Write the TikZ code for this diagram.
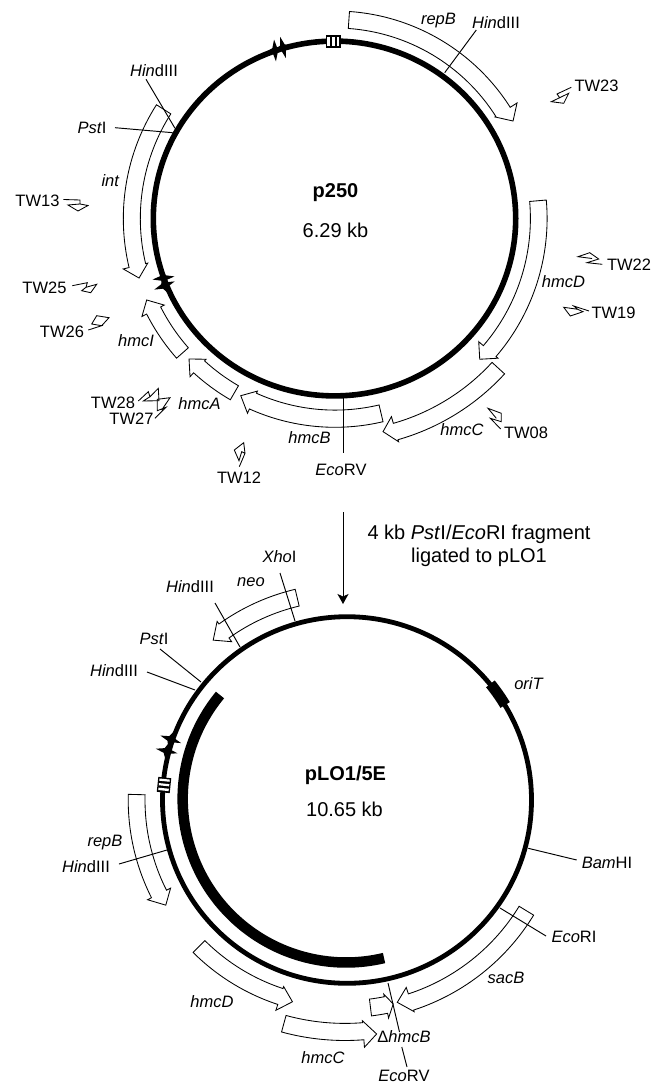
\documentclass[tikz,border=0pt]{standalone}
\usepackage{fontspec}
\setmainfont{Liberation Sans}
\usetikzlibrary{arrows.meta}
\tikzset{
  lbl/.style={inner sep=0pt,font=\fontsize{16.5}{19}\selectfont},
  lblbig/.style={inner sep=0pt,font=\fontsize{20}{23}\selectfont},
  lblb/.style={inner sep=0pt,font=\fontsize{20}{23}\selectfont\bfseries},
  genebox/.style={draw=black,line width=0.85pt,fill=white,line join=miter},
  leader/.style={draw=black,line width=0.95pt},
  primer/.style={draw=black,line width=0.85pt,line join=miter},
  ring/.style={draw=black,line width=5.6pt},
  ringb/.style={draw=black,line width=4.8pt},
}
\newcommand{\gene}[8]{%
  \draw[genebox] (#3:#1) arc[start angle=#3,end angle=#4,radius=#1] -- (#4:#5) -- (#7:#8) -- (#4:#6) -- (#4:#2) arc[start angle=#4,end angle=#3,radius=#2] -- cycle;}
\newcommand{\blackstar}[3]{%
  \fill[black,shift={(#1,#2)},rotate=#3] (11,0) -- (2.6,2.4) -- (0,7.5) -- (-2.6,2.4) -- (-11,0) -- (-2.6,-2.4) -- (0,-7.5) -- (2.6,-2.4) -- cycle;}
\newcommand{\ind}[1]{\textit{#1}}
\begin{document}
\begin{tikzpicture}[x=1pt,y=1pt]
\useasboundingbox (0,0) rectangle (666,-1083);

% ---------- p250 ----------
\coordinate (c1) at (334.5,-218.5);
\draw[ring] (c1) ellipse[x radius=181.2,y radius=177.4];

\begin{scope}[shift={(335,-218.5)}]
\gene{190.5}{207.5}{86}{32.4}{189.5}{215.6}{28.7}{203}   % repB
\gene{194.7}{211.7}{147.5}{193.4}{192.5}{217.7}{196.9}{204.8} % int
\gene{195.4}{212.1}{5}{-40.6}{189.3}{214.7}{-44.2}{201.9} % hmcD
\gene{213}{230}{-42.5}{-74.1}{206}{232.1}{-77.3}{218.5} % hmcC
\gene{191.6}{208.8}{-76.7}{-114.2}{189.2}{213.5}{-118}{200.7} % hmcB
\gene{193.1}{209.3}{-120}{-132.5}{190.9}{214.6}{-136.1}{202.6} % hmcA
\gene{195.5}{211.2}{-138.6}{-153.1}{191.4}{216.5}{-156.6}{205.2} % hmcI
\end{scope}

% stars p250
\blackstar{275}{-50.5}{95}
\blackstar{283}{-47.5}{105}
\blackstar{163.5}{-278}{8}
\blackstar{164.5}{-285.5}{22}

% iterons p250
\fill[black] (325.5,-35.5) rectangle (340.5,-48);
\fill[white] (327,-37) rectangle (329.5,-46.5);
\fill[white] (332,-37) rectangle (334.5,-46.5);
\fill[white] (337,-37) rectangle (339.2,-46.5);

% leaders p250
\coordinate (a1) at (146,-79.3);   \coordinate (a2) at (175,-128.3);
\coordinate (b1) at (115,-127.7);  \coordinate (b2) at (172.7,-132.7);
\coordinate (d1) at (476.3,-30);   \coordinate (d2) at (444.7,-72.7);
\coordinate (e1) at (343,-396);    \coordinate (e2) at (343,-453);
\draw[leader] (a1) -- (a2);
\draw[leader] (b1) -- (b2);
\draw[leader] (d1) -- (d2);
\draw[leader] (e1) -- (e2);

% labels p250
\node[lblb,anchor=base] (p250) at (335.5,-198) {p250};
\node[lblbig,anchor=base] (size1) at (335.5,-237) {6.29 kb};
\node[lbl] (h1) at (154,-71) {\ind{Hin}dIII};
\node[lbl] (pst1) at (92,-128) {\ind{Pst}I};
\node[lbl] (int) at (110.5,-181) {\ind{int}};
\node[lbl] (tw13) at (37.5,-201) {TW13};
\node[lbl] (tw23) at (596.5,-86) {TW23};
\node[lbl] (repb1) at (438.5,-21) {\ind{repB}};
\node[lbl] (h2) at (496,-23) {\ind{Hin}dIII};
\node[lbl] (tw25) at (44.5,-288) {TW25};
\node[lbl] (tw26) at (62,-332) {TW26};
\node[lbl] (hmci) at (136,-341) {\ind{hmcI}};
\node[lbl] (tw28) at (113,-403) {TW28};
\node[lbl] (tw27) at (131.5,-419) {TW27};
\node[lbl] (hmca) at (199.5,-404) {\ind{hmcA}};
\node[lbl] (tw12) at (239,-478) {TW12};
\node[lbl] (hmcb) at (309.5,-438) {\ind{hmcB}};
\node[lbl] (ecorv1) at (341,-470) {\ind{Eco}RV};
\node[lbl] (hmcc1) at (462,-430) {\ind{hmcC}};
\node[lbl] (tw08) at (526,-433) {TW08};
\node[lbl] (tw22) at (629,-265) {TW22};
\node[lbl] (hmcd1) at (563.5,-282) {\ind{hmcD}};
\node[lbl] (tw19) at (613.5,-313) {TW19};

% primers
\draw[primer] (63.3,-199.5) -- (80,-200) -- (80,-204) -- (68,-205) -- (78,-211) -- (88,-205.5) -- (80,-204);
\draw[primer] (571.3,-87.3) -- (557,-94) -- (559.7,-97.7) -- (551.3,-101.7) -- (563.7,-103.3) -- (568.7,-93.3) -- (559.7,-97.7);
\draw[primer] (72.3,-285.7) -- (87.3,-282.7) -- (86,-287.3) -- (96.7,-284.3) -- (90.7,-292.7) -- (81.7,-290.7) -- (86,-287.3);
\draw[primer] (88.3,-330) -- (101.7,-325.7) -- (91.7,-324) -- (96.7,-315.7) -- (109,-317.7) -- (101.7,-325.7);
\draw[primer] (138.3,-401) -- (148.3,-391.7) -- (150,-396.7) -- (158.3,-388.3) -- (159,-400.7) -- (143.3,-401) -- (150,-396.7);
\draw[primer] (155,-418.3) -- (166,-407.3) -- (157.3,-410.7) -- (157.3,-399.3) -- (170,-397.7) -- (161.7,-410);
\draw[primer] (239.3,-466.7) -- (245,-453.3) -- (243.7,-442.7) -- (234.3,-450) -- (239,-460.7) -- (241.7,-451.7) -- (245,-453.3);
\draw[primer] (500.7,-429) -- (490.3,-418.3) -- (501.3,-421.7) -- (501.3,-413.3) -- (488,-408.3) -- (496.3,-418.3);
\draw[primer] (602.3,-264.3) -- (587,-262.7) -- (598.7,-259) -- (589.7,-252.7) -- (578,-256.7) -- (592,-258.5);
\draw[primer] (589,-311) -- (573.7,-306) -- (577.7,-309.3) -- (563.7,-307.3) -- (570.3,-316) -- (583,-311.7) -- (577.7,-309.3);

% ---------- middle ----------
\coordinate (m1) at (343,-512);
\coordinate (m2) at (343,-604);
\draw[line width=0.95pt,-{Stealth[length=10pt,width=11pt,inset=2.5pt]}] (m1) -- (m2);
\node[lblbig] (frag1) at (479,-534) {4 kb \ind{Pst}I/\ind{Eco}RI fragment};
\node[lblbig] (frag2) at (479,-557) {ligated to pLO1};

% ---------- pLO1/5E ----------
\coordinate (c2) at (347,-800);
\draw[ringb] (c2) ellipse[x radius=184.5,y radius=183.3];
\draw[line width=10.5pt,black] (220,-695) arc[start angle=140.5,end angle=283.4,radius=163.5];
\draw[line width=11pt,black] (347,-800) ++(31:184.5) arc[start angle=31,end angle=39,radius=184.5];

\begin{scope}[shift={(345,-800)}]
\gene{199.3}{216.5}{103.3}{125.6}{194.7}{219.7}{129.5}{207.2} % neo
\gene{200}{216.8}{178.5}{206.8}{195.4}{221.2}{210.4}{207.8} % repB
\gene{198.5}{215.2}{225.1}{251.8}{196.4}{221.4}{255.4}{208.5} % hmcD
\gene{223.4}{240.5}{254.7}{274.5}{221.4}{248}{277.7}{236.1} % hmcC
\gene{204}{221}{-31.4}{-71.9}{197.2}{222.7}{-75.5}{209} % sacB
\gene{200.6}{217.5}{-83}{-78.7}{198}{222.3}{-76.7}{209.6} % dhmcB
\end{scope}

\blackstar{170.7}{-739.3}{-20}
\blackstar{166.7}{-751}{-12}

% iterons pLO1/5E
\begin{scope}[rotate around={-6:(164,-785)}]
\fill[black] (157.5,-777.5) rectangle (170.5,-792.5);
\fill[white] (158.8,-779) rectangle (169.2,-781.2);
\fill[white] (158.8,-783.6) rectangle (169.2,-785.8);
\fill[white] (158.8,-788.2) rectangle (169.2,-790.6);
\end{scope}

% leaders pLO1/5E
\coordinate (f1) at (280,-573);   \coordinate (f2) at (295,-621);
\coordinate (g1) at (215,-603);   \coordinate (g2) at (240,-647);
\coordinate (i1) at (160,-649);   \coordinate (i2) at (201,-682);
\coordinate (j1) at (147,-672);   \coordinate (j2) at (195,-690);
\coordinate (k1) at (119,-864);   \coordinate (k2) at (167,-850);
\coordinate (l1) at (528.3,-848.3); \coordinate (l2) at (576.7,-860);
\coordinate (n1) at (500,-908);   \coordinate (n2) at (546,-936);
\coordinate (o1) at (388,-983);   \coordinate (o2) at (399.5,-1032);
\coordinate (o3) at (401.8,-1047); \coordinate (o4) at (407,-1067);
\draw[leader] (f1) -- (f2);
\draw[leader] (g1) -- (g2);
\draw[leader] (i1) -- (i2);
\draw[leader] (j1) -- (j2);
\draw[leader] (k1) -- (k2);
\draw[leader] (l1) -- (l2);
\draw[leader] (n1) -- (n2);
\draw[leader] (o1) -- (o2);
\draw[leader] (o3) -- (o4);

% labels pLO1/5E
\node[lbl] (xho) at (279.5,-557) {\ind{Xho}I};
\node[lbl] (neo) at (251,-582) {\ind{neo}};
\node[lbl] (h3) at (190,-587) {\ind{Hin}dIII};
\node[lbl] (pst2) at (154,-639) {\ind{Pst}I};
\node[lbl] (h4) at (114,-671) {\ind{Hin}dIII};
\node[lblb,anchor=base] (plo) at (345.5,-780) {pLO1/5E};
\node[lblbig,anchor=base] (size2) at (344.5,-816) {10.65 kb};
\node[lbl] (orit) at (529,-684) {\ind{oriT}};
\node[lbl] (bam) at (607,-863) {\ind{Bam}HI};
\node[lbl] (eco) at (574,-937) {\ind{Eco}RI};
\node[lbl] (sacb) at (506,-978) {\ind{sacB}};
\node[lbl] (dhmcb) at (404,-1037) {Δ\ind{hmcB}};
\node[lbl] (ecorv2) at (404,-1076) {\ind{Eco}RV};
\node[lbl] (hmcc2) at (323,-1058) {\ind{hmcC}};
\node[lbl] (hmcd2) at (212,-1002) {\ind{hmcD}};
\node[lbl] (repb2) at (105,-843) {\ind{repB}};
\node[lbl] (h5) at (86,-867) {\ind{Hin}dIII};
\end{tikzpicture}
\end{document}
